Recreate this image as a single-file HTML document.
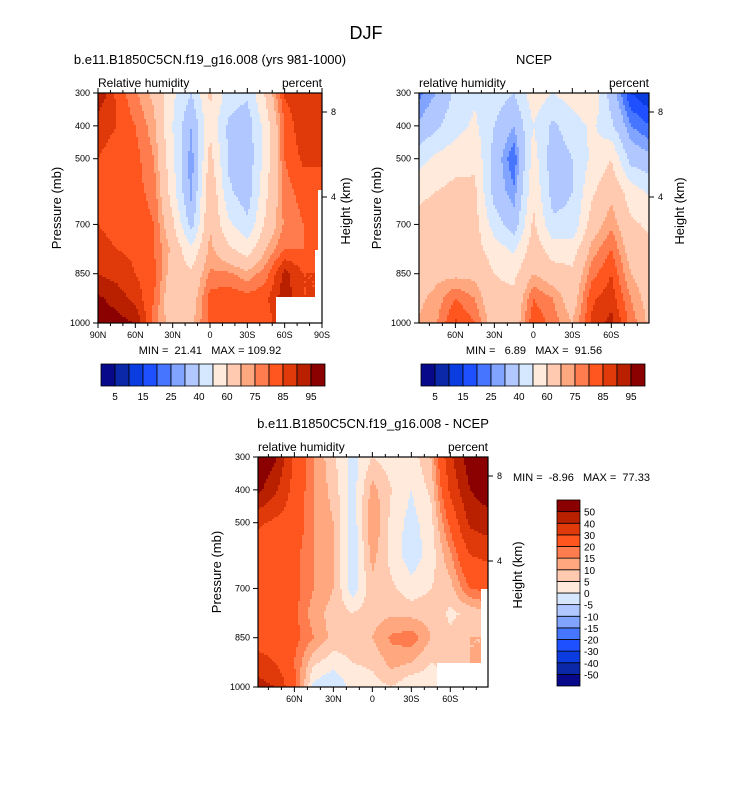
<!DOCTYPE html>
<html><head><meta charset="utf-8">
<style>
body{margin:0;background:#fff;}
svg text{font-family:"Liberation Sans",Arial,sans-serif;fill:#000;white-space:pre;}
</style></head>
<body>
<svg id="fig" width="733" height="784" viewBox="0 0 733 784" xmlns="http://www.w3.org/2000/svg">
<rect x="0" y="0" width="733" height="784" fill="#fff"/>
<text x="366" y="39" font-size="18" text-anchor="middle">DJF</text>
</svg>
<script>
// ---------- data ----------
const pLevels = [300,400,500,600,700,775,850,925,1000];
const lats = [90,75,60,45,30,15,0,-15,-30,-45,-60,-75,-90];
const rhLevels = [5,10,15,20,25,30,40,50,60,70,75,80,85,90,95];
const rhLabels = ["5","15","25","40","60","75","85","95"];
const diffLevels = [-50,-40,-30,-20,-15,-10,-5,0,5,10,15,20,30,40,50];
const diffLabels = ["-50","-40","-30","-20","-15","-10","-5","0","5","10","15","20","30","40","50"];
// model RH: rows = latitude (90N..90S), cols = pressure levels
const modelRH = [
 [95,86,85,85,85,86,90,96,98],
 [84,85,84,84,84,85,88,93,97],
 [76,80,82,82,83,84,85,88,95],
 [68,72,75,78,80,80,82,80,78],
 [52,50,52,55,62,68,65,62,65],
 [40,30,26,27,36,52,62,65,68],
 [62,58,64,70,70,72,76,82,82],
 [45,38,38,42,52,62,76,84,82],
 [42,34,33,34,42,55,72,82,84],
 [62,55,55,58,62,70,78,84,82],
 [86,80,80,78,76,80,92,93,90],
 [90,90,86,82,80,80,85,85,85],
 [86,88,85,85,85,85,85,85,85]
];
const ncepRH = [
 [22,30,45,58,62,62,65,68,70],
 [30,38,52,60,64,66,68,72,74],
 [42,46,56,63,66,66,68,80,86],
 [48,52,58,62,64,64,68,75,80],
 [45,40,36,36,45,55,60,62,65],
 [40,30,20,26,34,48,58,62,64],
 [56,50,55,58,62,66,70,80,84],
 [50,38,34,36,42,55,65,75,78],
 [55,45,40,40,42,55,62,65,70],
 [60,52,52,58,65,72,78,84,86],
 [35,42,60,68,74,80,85,88,92],
 [15,25,36,55,62,66,70,75,78],
 [10,20,32,48,58,62,64,66,68]
];
const diffRH = [
 [60,55,32,25,22,22,25,35,45],
 [52,42,28,25,22,22,25,30,40],
 [28,26,25,22,22,22,22,20,22],
 [15,15,15,15,15,12,15,6,-2],
 [6,8,10,10,10,8,8,2,-5],
 [-2,-3,-4,-4,-3,5,8,5,2],
 [5,12,15,12,8,8,10,6,3],
 [2,5,3,3,6,9,16,12,5],
 [2,0,-2,-3,2,8,18,10,0],
 [10,6,3,2,5,8,10,5,2],
 [38,32,22,14,8,4,6,6,6],
 [56,50,42,30,20,6,10,10,10],
 [60,56,46,32,22,10,10,10,10]
];
const colors = ["#08088a","#0a28a8","#0a3ce0","#1e50ff","#4676ff","#80a4ff","#b0c8ff","#d6e8ff",
 "#ffeadb","#ffcab0","#ffa880","#ff7c4e","#ff5620","#e03a0a","#b82000","#8b0000"];
</script>
<script>
const NS="http://www.w3.org/2000/svg";
const svg=document.getElementById('fig');
function mk(tag,attrs,parent){const e=document.createElementNS(NS,tag);for(const k in attrs)e.setAttribute(k,attrs[k]);(parent||svg).appendChild(e);return e;}
function txt(s,x,y,size,anchor,parent,rot){const t=mk('text',{x:x,y:y,'font-size':size,'text-anchor':anchor||'start'},parent);if(rot)t.setAttribute('transform','rotate(-90 '+x+' '+y+')');t.textContent=s;return t;}
function bin(v,levels){let i=0;while(i<levels.length&&v>=levels[i])i++;return i;}
function sample(grid,lat,p){
  let fi=(90-lat)/15; fi=Math.max(0,Math.min(lats.length-1,fi));
  let i0=Math.min(Math.floor(fi),lats.length-2); let ti=fi-i0;
  let j0=0; while(j0<pLevels.length-2&&p>pLevels[j0+1])j0++;
  let tj=(p-pLevels[j0])/(pLevels[j0+1]-pLevels[j0]); tj=Math.max(0,Math.min(1,tj));
  const a=grid[i0][j0],b=grid[i0+1][j0],c=grid[i0][j0+1],d=grid[i0+1][j0+1];
  return a*(1-ti)*(1-tj)+b*ti*(1-tj)+c*(1-ti)*tj+d*ti*tj;
}
function panel(o){
  const g=mk('g',{});
  
  
  const X=lat=>o.x0+(o.latL-lat)/(o.latL-o.latR)*o.w;
  const Y=p=>o.y0+(p-300)/700*o.h;
  const cs=2;
  const fg=mk('g',{},g);
  
  
  for(let py=0;py<o.h;py+=cs){
    const p=300+(py+cs/2)/o.h*700;
    let runStart=0,runC=-1;
    for(let px=0;px<=o.w;px+=cs){
      let c=-2;
      if(px<o.w){const lat=o.latL-(px+cs/2)/o.w*(o.latL-o.latR);c=bin(sample(o.grid,lat,p),o.levels);}
      if(c!==runC){
        if(runC>=0){const r=mk('rect',{x:o.x0+runStart,y:o.y0+py,width:Math.min(px,o.w)-runStart+0.5,height:cs+0.5,fill:colors[runC]},fg);
          
          }
        runStart=px;runC=c;
      }
    }
  }
  (o.masks||[]).forEach(m=>{const r=mk('rect',{x:m[0],y:m[1],width:m[2],height:m[3],fill:'#fff'},g);
    
    });
  const fr=mk('rect',{x:o.x0,y:o.y0,width:o.w,height:o.h,fill:'none',stroke:'#000','stroke-width':1.2},g);
  
  
  for(let lat=90;lat>=-90;lat-=10){
    if(lat>o.latL+0.01||lat<o.latR-0.01)continue;
    const x=X(lat),maj=lat%30===0,l=maj?5:3;
    mk('line',{x1:x,y1:o.y0,x2:x,y2:o.y0-l,stroke:'#000','stroke-width':1},g);
    mk('line',{x1:x,y1:o.y0+o.h,x2:x,y2:o.y0+o.h+l,stroke:'#000','stroke-width':1},g);
    if(maj&&(o.edgeLabels||Math.abs(lat)<90)){
      const s=lat===0?'0':Math.abs(lat)+(lat>0?'N':'S');
      const t=txt(s,x,o.y0+o.h+15,9,'middle',g);
      
      
    }
  }
  [300,400,500,700,850,1000].forEach(p=>{
    const y=Y(p);mk('line',{x1:o.x0,y1:y,x2:o.x0-5,y2:y,stroke:'#000','stroke-width':1},g);
    const t=txt(String(p),o.x0-8,y+3,9,'end',g);
    
    
  });
  [[8,o.h8],[4,o.h4]].forEach(h=>{
    mk('line',{x1:o.x0+o.w,y1:h[1],x2:o.x0+o.w+5,y2:h[1],stroke:'#000','stroke-width':1},g);
    const t=txt(String(h[0]),o.x0+o.w+9,h[1]+3,9,'start',g);
    
    
  });
  let t=txt(o.title,o.titleX,o.y0-29,13,'middle',g);
  
  
  t=txt(o.left,o.x0,o.y0-6,12,'start',g);
  
  
  t=txt('percent',o.x0+o.w,o.y0-6,12,'end',g);
  
  
  t=txt('Pressure (mb)',o.ylabX,o.y0+o.h/2,13,'middle',g,true);
  
  
  t=txt('Height (km)',o.hlabX,o.y0+o.h/2+3,13,'middle',g,true);
  
  
  t=txt(o.minmax,o.mmX,o.mmY,11,o.mmAnchor||'middle',g);
  
  
}
function hbar(x0,y0,w,h,name){
  const g=mk('g',{});
  
  
  const bw=w/colors.length;
  colors.forEach((c,i)=>{const r=mk('rect',{x:x0+i*bw,y:y0,width:bw,height:h,fill:c,stroke:'#000','stroke-width':0.8},g);
    
    });
  rhLabels.forEach((s,k)=>{const t=txt(s,x0+(2*k+1)*bw,y0+h+14,10,'middle',g);
    
    });
}
function vbar(x0,y0,w,h,name){
  const g=mk('g',{});
  
  
  const bh=h/colors.length;
  colors.forEach((c,i)=>{const r=mk('rect',{x:x0,y:y0+h-(i+1)*bh,width:w,height:bh,fill:c,stroke:'#000','stroke-width':0.8},g);
    
    });
  diffLabels.forEach((s,k)=>{const t=txt(s,x0+w+4,y0+h-(k+1)*bh+4,10,'start',g);
    
    });
}
panel({name:'model-panel',grid:modelRH,levels:rhLevels,x0:98,y0:93,w:224,h:230,latL:90,latR:-90,edgeLabels:true,
  h8:112,h4:197,title:'b.e11.B1850C5CN.f19_g16.008 (yrs 981-1000)',titleX:210,left:'Relative humidity',
  ylabX:61,hlabX:350,minmax:'MIN =  21.41   MAX = 109.92',mmX:210,mmY:354,
  masks:[[276,297,46,26],[318,190,4,107],[315,250,7,50]]});
panel({name:'ncep-panel',grid:ncepRH,levels:rhLevels,x0:419,y0:93,w:230,h:230,latL:88,latR:-89,edgeLabels:false,
  h8:112,h4:197,title:'NCEP',titleX:534,left:'relative humidity',
  ylabX:381,hlabX:684,minmax:'MIN =   6.89   MAX =  91.56',mmX:534,mmY:354});
panel({name:'difference-panel',grid:diffRH,levels:diffLevels,x0:258,y0:457,w:230,h:230,latL:88,latR:-89,edgeLabels:false,
  h8:476,h4:561,title:'b.e11.B1850C5CN.f19_g16.008 - NCEP',titleX:373,left:'relative humidity',
  ylabX:221,hlabX:522,minmax:'MIN =  -8.96   MAX =  77.33',mmX:513,mmY:481,mmAnchor:'start',
  masks:[[437,663,51,24],[481,589,7,75]]});
hbar(101,364,224,22,'model-colorbar');
hbar(421,364,224,22,'ncep-colorbar');
vbar(557,500,23,186,'difference-colorbar');
</script>
</body></html>
